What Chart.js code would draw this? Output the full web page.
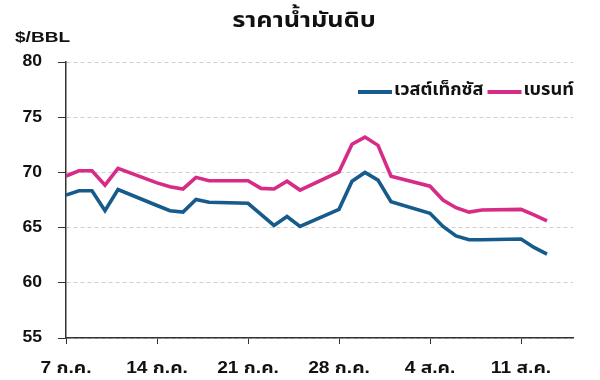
<!DOCTYPE html>
<html>
<head>
<meta charset="utf-8">
<script src="https://cdn.jsdelivr.net/npm/chart.js@4"></script>
<style>
  html, body { margin: 0; padding: 0; background: #fff; }
  #wrap { width: 600px; height: 380px; }
</style>
</head>
<body>
<div id="wrap"><canvas id="oilChart"></canvas></div>
<script>
// days counted from 7 Jul (trading days only)
const days = [0, 1, 2, 3, 4, 7, 8, 9, 10, 11, 14, 15, 16, 17, 18, 21, 22, 23, 24, 25, 28, 29, 30, 31, 32, 35, 36, 37];
const wti = [67.95, 68.34, 68.34, 66.53, 68.45, 67.0, 66.53, 66.4, 67.55, 67.3, 67.2, 66.2, 65.2, 66.0, 65.1,
  66.66, 69.2, 70.0, 69.3, 67.35, 66.3, 65.1, 64.25, 63.9, 63.9, 63.97, 63.2, 62.6];
const brent = [69.67, 70.15, 70.15, 68.85, 70.36, 69.05, 68.7, 68.5, 69.55, 69.25, 69.25, 68.55, 68.5, 69.2, 68.4,
  70.05, 72.55, 73.2, 72.45, 69.65, 68.75, 67.5, 66.8, 66.4, 66.6, 66.65, 66.15, 65.6];
const xLabels = ["7 ก.ค.", "14 ก.ค.", "21 ก.ค.", "28 ก.ค.", "4 ส.ค.", "11 ส.ค."];
const seriesNames = ["เวสต์เท็กซัส", "เบรนท์"];
const title = "ราคาน้ำมันดิบ";
const unit = "$/BBL";

const FONT = "'Noto Sans Thai', 'Noto Sans', Arial, sans-serif";
const BLUE = "#165b8c";
const PINK = "#d62b86";

function toPoints(vals) {
  return vals.map((v, i) => ({ x: days[i], y: v }));
}

// text in the original is a bit wider than our fonts, so stretch it
function wideText(ctx, text, x, y, align, sx) {
  const w = ctx.measureText(text).width * sx;
  let left = x;
  if (align === "center") left = x - w / 2;
  if (align === "right") left = x - w;
  ctx.save();
  ctx.translate(left, y);
  ctx.scale(sx, 1);
  ctx.textAlign = "left";
  ctx.fillText(text, 0, 0);
  ctx.restore();
  return w;
}

const decorPlugin = {
  id: "decor",
  afterDraw(chart) {
    const ctx = chart.ctx;
    const xs = chart.scales.x;
    const ys = chart.scales.y;
    ctx.save();
    ctx.fillStyle = "#111";
    ctx.textBaseline = "middle";

    ctx.font = "bold 22px " + FONT;
    wideText(ctx, title, 304, 23, "center", 1.15);

    ctx.font = "bold 15px Arial, sans-serif";
    wideText(ctx, unit, 15, 38, "left", 1.27);

    // tick labels
    ctx.font = "bold 16px Arial, sans-serif";
    ys.ticks.forEach((t) => {
      wideText(ctx, String(t.value), 42, ys.getPixelForValue(t.value), "right", 1.1);
    });
    ctx.font = "bold 16px Arial, " + FONT;
    xLabels.forEach((lab, i) => {
      wideText(ctx, lab, xs.getPixelForValue(i * 7), 369, "center", 1.2);
    });

    // legend
    let x = 358;
    const y = 92;
    ctx.font = "bold 17px " + FONT;
    chart.data.datasets.forEach((ds) => {
      ctx.strokeStyle = ds.borderColor;
      ctx.lineWidth = 4;
      ctx.beginPath();
      ctx.moveTo(x, y);
      ctx.lineTo(x + 34, y);
      ctx.stroke();
      const w = wideText(ctx, ds.label, x + 36, y, "left", 1.07);
      x += 36 + w + 4;
    });
    ctx.restore();
  }
};

new Chart(document.getElementById("oilChart"), {
  type: "line",
  data: {
    datasets: [
      { label: seriesNames[0], data: toPoints(wti), borderColor: BLUE, borderWidth: 3.6 },
      { label: seriesNames[1], data: toPoints(brent), borderColor: PINK, borderWidth: 3.6 }
    ]
  },
  options: {
    responsive: true,
    maintainAspectRatio: false,
    animation: false,
    devicePixelRatio: 1,
    layout: { padding: { top: 62, right: 27, left: 0, bottom: 0 } },
    elements: { point: { radius: 0 }, line: { tension: 0 } },
    plugins: { legend: { display: false }, tooltip: { enabled: false } },
    scales: {
      x: {
        type: "linear",
        min: 0,
        max: 39,
        afterFit(scale) { scale.height = 42; },
        grid: { drawOnChartArea: false, tickLength: 6, tickColor: "#333" },
        border: { color: "#333", width: 1.5 },
        ticks: {
          display: false,
          stepSize: 7,
          autoSkip: false,
          callback: (v) => (v % 7 === 0 ? xLabels[v / 7] : null)
        }
      },
      y: {
        min: 55,
        max: 80,
        afterFit(scale) { scale.width = 66; },
        grid: { color: "#cfcfcf", tickColor: "#333", tickLength: 8 },
        border: { color: "#333", width: 1.5, dash: [4, 3] },
        ticks: { display: false, stepSize: 5 }
      }
    }
  },
  plugins: [decorPlugin]
});
</script>
</body>
</html>
